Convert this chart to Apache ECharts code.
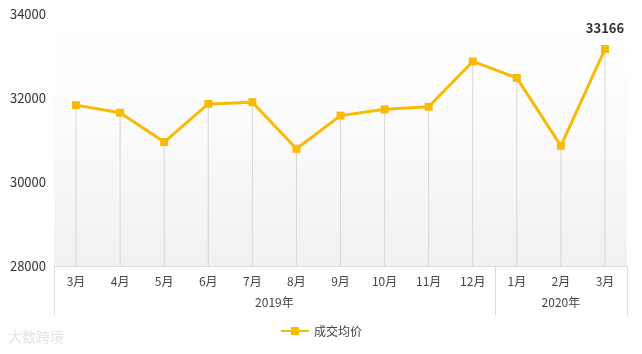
<!DOCTYPE html>
<html>
<head>
<meta charset="utf-8">
<script src="https://cdn.jsdelivr.net/npm/echarts@6/dist/echarts.min.js"></script>
<style>
  html, body { margin: 0; padding: 0; background: #fff; }
  #chart { width: 642px; height: 354px; }
</style>
</head>
<body>
<div id="chart"></div>
<script>
// months shown on the x axis
const months = ['3月', '4月', '5月', '6月', '7月', '8月', '9月', '10月', '11月', '12月', '1月', '2月', '3月']
// year groups and how many months each covers
const years = ['2019年', '2020年']
const yearSpans = [10, 3]
// 成交均价
const avgPrice = [31830, 31650, 30950, 31860, 31900, 30790, 31580, 31730, 31790, 32870, 32480, 30860, 33166]
const yTicks = [28000, 30000, 32000, 34000]

const lineColor = '#F8BA05'
const gridLine = '#dcdcdc'
const font = '"Noto Sans CJK SC", sans-serif'

// year axis: half-category slots so labels can sit in the middle of each group
const yearSlots = []
const yearLabelAt = {}
const yearEdges = { 0: true }
let pos = 0
years.forEach((y, i) => {
  yearLabelAt[pos + yearSpans[i]] = y
  pos += yearSpans[i] * 2
  yearEdges[pos] = true
})
for (let i = 0; i <= months.length * 2; i++) yearSlots.push(yearLabelAt[i] || '')

const chart = echarts.init(document.getElementById('chart'))

chart.setOption({
  animation: false,
  textStyle: { fontFamily: font },
  grid: {
    left: 54,
    right: 15,
    top: 14,
    bottom: 88,
    show: true,
    borderWidth: 0,
    backgroundColor: new echarts.graphic.LinearGradient(0, 0, 0, 1, [
      { offset: 0, color: '#ffffff' },
      { offset: 0.3, color: '#fdfdfd' },
      { offset: 1, color: '#f1f1f1' }
    ])
  },
  legend: {
    data: ['成交均价'],
    bottom: 12,
    left: 'center',
    itemWidth: 28,
    itemHeight: 10,
    textStyle: { color: '#444', fontSize: 12, fontFamily: font }
  },
  xAxis: [
    {
      type: 'category',
      data: months,
      position: 'bottom',
      axisLine: { lineStyle: { color: gridLine } },
      axisTick: { show: false },
      axisLabel: { color: '#444', fontSize: 12, margin: 9 },
      splitLine: { show: false }
    },
    {
      type: 'category',
      data: yearSlots,
      position: 'bottom',
      boundaryGap: false,
      axisLine: { show: false },
      axisTick: {
        show: true,
        length: 49,
        interval: (i) => !!yearEdges[i],
        lineStyle: { color: gridLine }
      },
      axisLabel: {
        color: '#444',
        fontSize: 12,
        margin: 30,
        interval: (i) => !!yearLabelAt[i]
      }
    }
  ],
  yAxis: {
    type: 'value',
    min: yTicks[0],
    max: yTicks[yTicks.length - 1],
    interval: 2000,
    axisLine: { show: false },
    axisTick: { show: false },
    splitLine: { show: false },
    axisLabel: { color: '#333', fontSize: 13, margin: 8, formatter: (v) => String(v) }
  },
  graphic: [
    {
      type: 'text',
      left: 8,
      top: 330,
      style: { text: '大数跨境', fill: '#e4e4e4', fontSize: 14, fontFamily: font }
    }
  ],
  series: [
    {
      name: 'drop',
      type: 'bar',
      data: avgPrice,
      barWidth: 1,
      silent: true,
      itemStyle: { color: '#d6d6d6' },
      z: 1
    },
    {
      name: '成交均价',
      type: 'line',
      data: avgPrice,
      symbol: 'rect',
      symbolSize: 8,
      lineStyle: { color: lineColor, width: 3 },
      itemStyle: { color: lineColor },
      z: 3,
      label: {
        show: true,
        position: 'top',
        distance: 10,
        color: '#333',
        fontSize: 13,
        fontWeight: 'bold',
        formatter: (p) => (p.dataIndex === avgPrice.length - 1 ? p.value : '')
      }
    }
  ]
})
</script>
</body>
</html>
